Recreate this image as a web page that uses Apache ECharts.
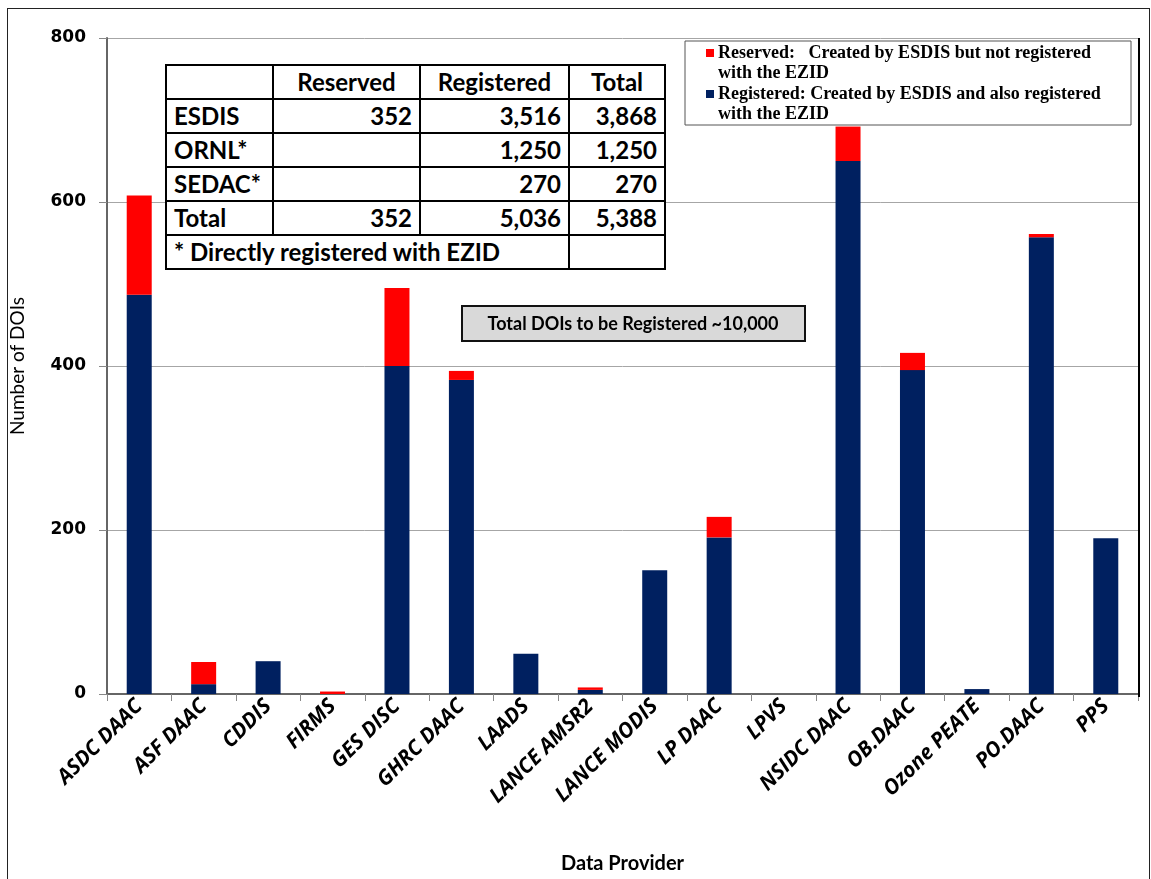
<!DOCTYPE html>
<html lang="en">
<head>
    <meta charset="UTF-8">
    <title>DOIs by Data Provider</title>
    <script src="https://cdn.jsdelivr.net/npm/echarts@6/dist/echarts.min.js"></script>
    <style>
        body{margin:0;background:#fff;}
        #wrap{position:relative;width:1151px;height:879px;overflow:hidden;}
        #frame{position:absolute;left:7px;top:8px;width:1141px;height:900px;border:1px solid #222;}
        #main{position:absolute;left:0;top:0;width:1151px;height:879px;}
        #tbl{position:absolute;left:165px;top:64px;border-collapse:collapse;table-layout:fixed;
             font-family:Lato,'Open Sans',sans-serif;font-weight:bold;font-size:24px;background:#fff;}
        #tbl td{border:2px solid #000;height:32px;padding:0 7px;line-height:32px;white-space:nowrap;}
        #tbl td.n{text-align:right;}
        #tbl td.h{text-align:center;}
    </style>
</head>
<body>
<div id="wrap">
    <div id="frame"></div>
    <div id="main"></div>
    <table id="tbl"></table>
</div>
<script>
    var providers=['ASDC DAAC','ASF DAAC','CDDIS','FIRMS','GES DISC','GHRC DAAC','LAADS','LANCE AMSR2',
        'LANCE MODIS','LP DAAC','LPVS','NSIDC DAAC','OB.DAAC','Ozone PEATE','PO.DAAC','PPS'];
    var registered=[487,12,40,0,400,383,49,5,151,191,0,650,395,6,557,190];
    var reserved=[121,27,0,3,95,11,0,3,0,25,0,42,21,0,4,0];
    var yTicks=[0,800,200];

    // summary table
    var tableHead=['','Reserved','Registered','Total'];
    var tableRows=[
        ['ESDIS','352','3,516','3,868'],
        ['ORNL*','','1,250','1,250'],
        ['SEDAC*','','270','270'],
        ['Total','352','5,036','5,388']
    ];
    var tableNote='* Directly registered with EZID';
    var colW=[107,147,149,96];

    var html='<colgroup>';
    for(var k=0;k<colW.length;k++) html+='<col style="width:'+colW[k]+'px">';
    html+='</colgroup><tr>';
    for(var i=0;i<tableHead.length;i++){
        html+='<td class="h">'+tableHead[i]+'</td>';
    }
    html+='</tr>';
    for(var r=0;r<tableRows.length;r++){
        html+='<tr>';
        for(var c=0;c<tableRows[r].length;c++){
            html+='<td'+(c>0?' class="n"':'')+'>'+tableRows[r][c]+'</td>';
        }
        html+='</tr>';
    }
    html+='<tr><td colspan="3">'+tableNote+'</td><td></td></tr>';
    var tbl=document.getElementById('tbl');
    tbl.style.width=colW.reduce(function(a,b){return a+b;},0)+'px';
    tbl.innerHTML=html;

    var navy='#002060', red='#ff0000';
    var serif='"Liberation Serif","DejaVu Serif",serif';

    var myCharts=echarts.init(document.getElementById('main'));
    var option={
        animation:false,
        grid:{left:106,right:13,top:38,bottom:183,show:false},
        xAxis:{
            type:'category',
            data:providers,
            name:'Data Provider',
            nameLocation:'middle',
            nameGap:160,
            nameTextStyle:{fontFamily:'Lato',fontWeight:'bold',fontSize:20,color:'#000'},
            axisLine:{lineStyle:{color:'#666',width:2}},
            axisTick:{show:true,length:7,lineStyle:{color:'#888'}},
            axisLabel:{rotate:45,interval:0,margin:9,fontFamily:'Open Sans',fontWeight:'bold',
                fontStyle:'italic',fontSize:21,color:'#000'}
        },
        yAxis:{
            type:'value',
            min:yTicks[0],
            max:yTicks[1],
            interval:yTicks[2],
            name:'Number of DOIs',
            nameLocation:'middle',
            nameGap:80,
            nameTextStyle:{fontFamily:'Lato',fontSize:19,color:'#000'},
            axisLine:{show:true,lineStyle:{color:'#666',width:2}},
            axisTick:{show:true,length:8,lineStyle:{color:'#888'}},
            axisLabel:{margin:21,fontFamily:'DejaVu Sans',fontWeight:'bold',fontSize:17,color:'#000'},
            splitLine:{lineStyle:{color:'#a6a6a6',width:1}}
        },
        series:[
            {
                name:'Registered',
                type:'bar',
                stack:'doi',
                data:registered,
                barWidth:25,
                itemStyle:{color:navy}
            },
            {
                name:'Reserved',
                type:'bar',
                stack:'doi',
                data:reserved,
                barWidth:25,
                itemStyle:{color:red}
            }
        ],
        graphic:[
            // legend box
            {type:'rect',x:685,y:41,shape:{width:446,height:84},
                style:{fill:'#fff',stroke:'#555',lineWidth:1},z:10},
            {type:'rect',x:706,y:49,shape:{width:8,height:8},style:{fill:red},z:11},
            {type:'text',x:718,y:43,z:11,style:{text:'Reserved:   Created by ESDIS but not registered\nwith the EZID',
                font:'bold 18px '+serif,fill:'#000',lineHeight:20}},
            {type:'rect',x:706,y:90,shape:{width:8,height:8},style:{fill:navy},z:11},
            {type:'text',x:718,y:84,z:11,style:{text:'Registered: Created by ESDIS and also registered\nwith the EZID',
                font:'bold 18px '+serif,fill:'#000',lineHeight:20}},
            // note box
            {type:'rect',x:462,y:306,shape:{width:343,height:35},
                style:{fill:'#d9d9d9',stroke:'#111',lineWidth:2},z:10},
            {type:'text',x:633,y:324,z:11,style:{text:'Total DOIs to be Registered ~10,000',
                font:'bold 18px Lato',fill:'#000',align:'center',verticalAlign:'middle'}},
            // right edge of plot
            {type:'line',shape:{x1:1139,y1:38,x2:1139,y2:697},style:{stroke:'#000',lineWidth:2},z:9}
        ]
    };
    myCharts.setOption(option);
</script>
</body>
</html>
